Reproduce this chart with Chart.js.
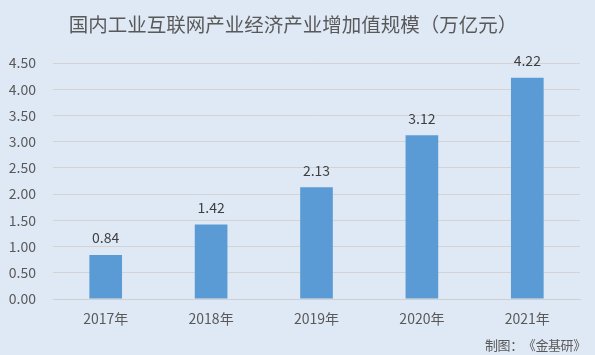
<!DOCTYPE html>
<html><head><meta charset="utf-8">
<script src="https://cdn.jsdelivr.net/npm/chart.js@4"></script>
<style>
html,body{margin:0;padding:0;background:#dfe9f5;}
#wrap{position:relative;width:595px;height:355px;}
</style></head>
<body><div id="wrap"><canvas id="c" width="595" height="355"></canvas></div>
<script>
const categories = ['2017年','2018年','2019年','2020年','2021年'];
const values = [0.84, 1.42, 2.13, 3.12, 4.22];
const yTicks = [0, 0.5, 1, 1.5, 2, 2.5, 3, 3.5, 4, 4.5];
const titleText = '国内工业互联网产业经济产业增加值规模（万亿元）';
const sourceText = '制图：《金基研》';

const FONT = '"Noto Sans CJK SC", "Microsoft YaHei", sans-serif';

const bgPlugin = {
  id: 'bg',
  beforeDraw(chart) {
    const ctx = chart.ctx;
    ctx.save();
    ctx.fillStyle = '#dfe9f5';
    ctx.fillRect(0, 0, chart.width, chart.height);
    ctx.restore();
  }
};
const labelPlugin = {
  id: 'labels',
  afterDatasetsDraw(chart) {
    const ctx = chart.ctx;
    const meta = chart.getDatasetMeta(0);
    ctx.save();
    ctx.font = '14px ' + FONT;
    ctx.fillStyle = '#404040';
    ctx.textAlign = 'center';
    ctx.textBaseline = 'middle';
    meta.data.forEach((bar, i) => {
      ctx.fillText(values[i].toFixed(2), bar.x, bar.y - 17);
    });
    // title
    ctx.font = '19.5px ' + FONT;
    ctx.fillStyle = '#595959';
    ctx.textAlign = 'center';
    ctx.fillText(titleText, 293, 25);
    // source, full-width spacing
    ctx.font = '13px ' + FONT;
    ctx.fillStyle = '#595959';
    ctx.textAlign = 'center';
    const chars = Array.from(sourceText);
    const step = 12.6;
    const x0 = 586 - step * chars.length + step / 2;
    chars.forEach((ch, i) => ctx.fillText(ch, x0 + i * step, 345));
    ctx.restore();
  }
};

new Chart(document.getElementById('c'), {
  type: 'bar',
  data: {
    labels: categories,
    datasets: [{
      data: values,
      backgroundColor: '#5b9bd5',
      borderWidth: 0,
      barPercentage: 0.31,
      categoryPercentage: 1.0
    }]
  },
  options: {
    responsive: false,
    animation: false,
    layout: { padding: { left: 0, right: 15, top: 63, bottom: 0 } },
    plugins: {
      legend: { display: false },
      tooltip: { enabled: false },
      title: { display: false }
    },
    scales: {
      x: {
        afterFit(scale) { scale.height = 56; },
        grid: { display: false, drawTicks: false },
        border: { display: true, color: '#d0d0d0' },
        ticks: { color: '#595959', font: { family: FONT, size: 14 }, padding: 11 }
      },
      y: {
        min: 0, max: 4.5,
        afterFit(scale) { scale.width = 53; },
        afterBuildTicks(scale) { scale.ticks = yTicks.map(v => ({ value: v })); },
        grid: { color: '#d3d3d3', drawTicks: false },
        border: { display: false },
        ticks: {
          color: '#595959',
          font: { family: FONT, size: 14 },
          padding: 17,
          callback: v => Number(v).toFixed(2)
        }
      }
    }
  },
  plugins: [bgPlugin, labelPlugin]
});
</script></body></html>
